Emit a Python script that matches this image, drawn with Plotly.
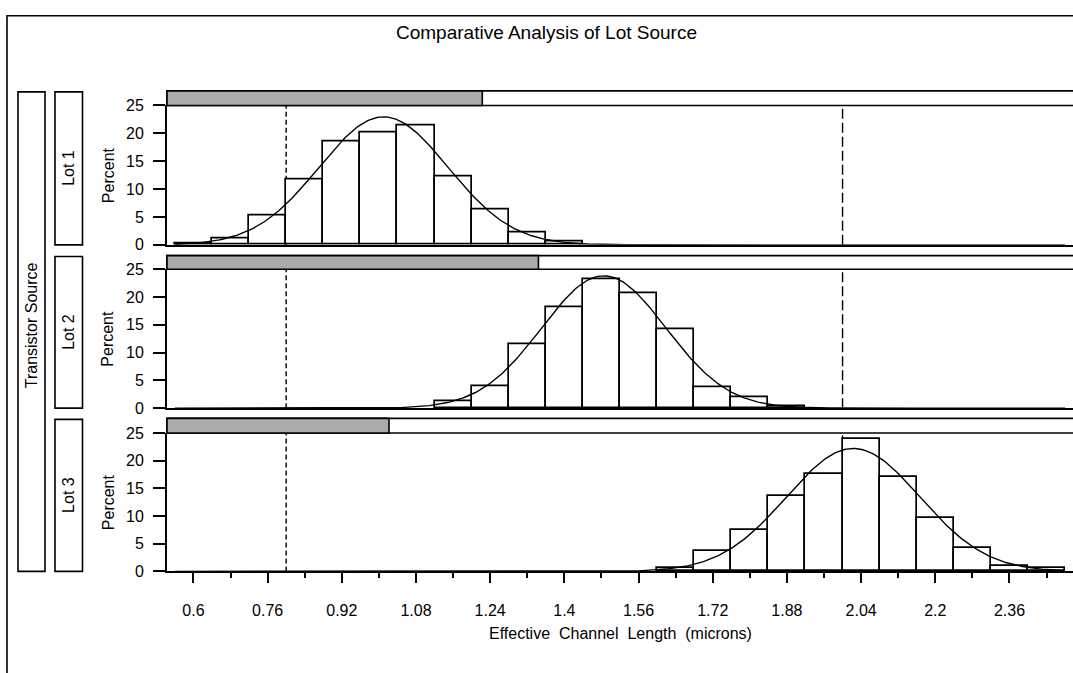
import numpy as np
import plotly.graph_objects as go

W, H = 1073, 673

# ---------------- data ----------------
lots = ["Lot 1", "Lot 2", "Lot 3"]
bin_width = 0.08
lot1_mid = [0.60, 0.68, 0.76, 0.84, 0.92, 1.00, 1.08, 1.16, 1.24, 1.32, 1.40]
lot1_pct = [0.25, 1.2, 5.2, 11.8, 18.5, 20.2, 21.5, 12.3, 6.3, 2.3, 0.55]
lot2_mid = [1.16, 1.24, 1.32, 1.40, 1.48, 1.56, 1.64, 1.72, 1.80, 1.88]
lot2_pct = [1.3, 3.9, 11.5, 18.2, 23.2, 20.6, 14.2, 3.8, 2.0, 0.4]
lot3_mid = [1.64, 1.72, 1.80, 1.88, 1.96, 2.04, 2.12, 2.20, 2.28, 2.36, 2.44]
lot3_pct = [0.6, 3.65, 7.5, 13.6, 17.6, 24.0, 17.1, 9.6, 4.3, 0.94, 0.6]
# fitted normal curve parameters (mean, std dev)
fit_mean = [1.01, 1.485, 2.023]
fit_std = [0.139, 0.134, 0.1437]
# share of observations in each lot (inset bar)
lot_share = [0.348, 0.41, 0.245]
spec_limits = [0.80, 2.00]
x_ticks = [0.6, 0.76, 0.92, 1.08, 1.24, 1.4, 1.56, 1.72, 1.88, 2.04, 2.2, 2.36]
y_ticks = [0, 5, 10, 15, 20, 25]

mids = [lot1_mid, lot2_mid, lot3_mid]
pcts = [lot1_pct, lot2_pct, lot3_pct]

# ---------------- layout geometry (pixels) ----------------
plot_left = 167
x_range = [0.543, 2.497]
panels = [  # (header_top, plot_top(25), plot_bottom(0))
    (85, 100, 243),
    (254, 268, 410.5),
    (421, 436, 578),
]

def px(x):
    return x / W

def py(y):
    return 1 - y / H

def wide(s):
    return s.replace(" ", "&nbsp; ")

FONT = "Liberation Sans, Arial, Helvetica, sans-serif"
fig = go.Figure()

for i in range(3):
    xa = "x" if i == 0 else f"x{i+1}"
    ya = "y" if i == 0 else f"y{i+1}"
    fig.add_trace(go.Bar(
        x=mids[i], y=pcts[i], width=bin_width,
        marker=dict(color="white", line=dict(color="black", width=1.7)),
        xaxis=xa, yaxis=ya, showlegend=False, hoverinfo="skip"))
    xs = np.arange(0.56, 2.4801, 0.004)
    ys = 100 * bin_width / (fit_std[i] * np.sqrt(2 * np.pi)) * np.exp(-0.5 * ((xs - fit_mean[i]) / fit_std[i]) ** 2)
    fig.add_trace(go.Scatter(
        x=xs, y=ys, mode="lines", line=dict(color="black", width=1.4),
        xaxis=xa, yaxis=ya, showlegend=False, hoverinfo="skip"))

layout = dict(
    width=W, height=H, autosize=False,
    margin=dict(l=0, r=0, t=0, b=0),
    paper_bgcolor="white", plot_bgcolor="white",
    font=dict(family=FONT, color="black", size=16),
    bargap=0,
)

for i in range(3):
    ht, top, bot = panels[i]
    sx = "" if i == 0 else str(i + 1)
    last = i == 2
    xaxis = dict(
        domain=[px(plot_left), 1.0], range=x_range, anchor=f"y{sx}",
        showline=True, linecolor="black", linewidth=1.8, showgrid=False, zeroline=False,
        tickmode="array", tickvals=x_ticks, ticktext=[str(t) for t in x_ticks],
        showticklabels=last, ticks="outside" if last else "",
        ticklen=10, tickwidth=1.6, tickcolor="black",
        tickfont=dict(size=16),
    )
    if last:
        xaxis["minor"] = dict(ticks="outside", ticklen=5, tickwidth=1.6, tickcolor="black",
                              tick0=0.6, dtick=0.08, showgrid=False)
        xaxis["ticklabelstandoff"] = 14
    if i > 0:
        xaxis["matches"] = "x"
    yaxis = dict(
        domain=[py(bot), py(top)], range=[0, 25], anchor=f"x{sx}",
        showline=True, linecolor="black", linewidth=1.8, showgrid=False, zeroline=False,
        tickmode="array", tickvals=y_ticks, ticks="outside", ticklen=12, tickwidth=1.6,
        tickcolor="black", tickfont=dict(size=16), ticklabelstandoff=6,
    )
    layout[f"xaxis{sx}"] = xaxis
    layout[f"yaxis{sx}"] = yaxis

fig.update_layout(**layout)

shapes = []
annotations = []
line_w = 1.6

# outer frame
shapes.append(dict(type="rect", xref="paper", yref="paper",
                   x0=px(7), x1=px(1090), y0=py(690), y1=py(8),
                   line=dict(color="black", width=line_w), fillcolor="rgba(0,0,0,0)", layer="below"))

# Transistor Source box
shapes.append(dict(type="rect", xref="paper", yref="paper",
                   x0=px(18), x1=px(45), y0=py(578), y1=py(86),
                   line=dict(color="black", width=line_w), fillcolor="white"))
annotations.append(dict(text="Transistor Source", xref="paper", yref="paper",
                        x=px(31.5), y=py(326), textangle=-90, showarrow=False,
                        font=dict(size=16), xanchor="center", yanchor="middle"))

for i in range(3):
    ht, top, bot = panels[i]
    sx = "" if i == 0 else str(i + 1)
    shapes.append(dict(type="rect", xref="paper", yref="paper",
                       x0=px(55), x1=px(82.5), y0=py(bot), y1=py(ht + 1),
                       line=dict(color="black", width=line_w), fillcolor="white"))
    annotations.append(dict(text=lots[i], xref="paper", yref="paper",
                            x=px(69), y=py((ht + bot) / 2), textangle=-90, showarrow=False,
                            font=dict(size=16), xanchor="center", yanchor="middle"))
    annotations.append(dict(text="Percent", xref="paper", yref="paper",
                            x=px(108), y=py((top + bot) / 2), textangle=-90, showarrow=False,
                            font=dict(size=16), xanchor="center", yanchor="middle"))
    shapes.append(dict(type="rect", xref="paper", yref="paper",
                       x0=px(plot_left), x1=1.002, y0=py(top), y1=py(ht),
                       line=dict(color="black", width=line_w), fillcolor="white"))
    gx = px(plot_left) + lot_share[i] * (1.0 - px(plot_left))
    shapes.append(dict(type="rect", xref="paper", yref="paper",
                       x0=px(plot_left), x1=gx, y0=py(top), y1=py(ht),
                       line=dict(color="black", width=line_w), fillcolor="#ababab"))
    shapes.append(dict(type="line", xref=f"x{sx}", yref=f"y{sx} domain",
                       x0=spec_limits[0], x1=spec_limits[0], y0=0, y1=1,
                       line=dict(color="black", width=1.4, dash="5px,3px"), layer="below"))
    shapes.append(dict(type="line", xref=f"x{sx}", yref=f"y{sx} domain",
                       x0=spec_limits[1], x1=spec_limits[1], y0=0, y1=1,
                       line=dict(color="black", width=1.4, dash="10px,4px"), layer="below"))

annotations.append(dict(text="Comparative Analysis of Lot Source", xref="paper", yref="paper",
                        x=px(546.5), y=py(25), showarrow=False, font=dict(size=19),
                        xanchor="center", yanchor="middle"))
annotations.append(dict(text=wide("Effective Channel Length (microns)"), xref="paper", yref="paper",
                        x=px(620.5), y=py(642), showarrow=False, font=dict(size=16),
                        xanchor="center", yanchor="middle"))

fig.update_layout(shapes=shapes, annotations=annotations)
fig.write_html("out.html")
